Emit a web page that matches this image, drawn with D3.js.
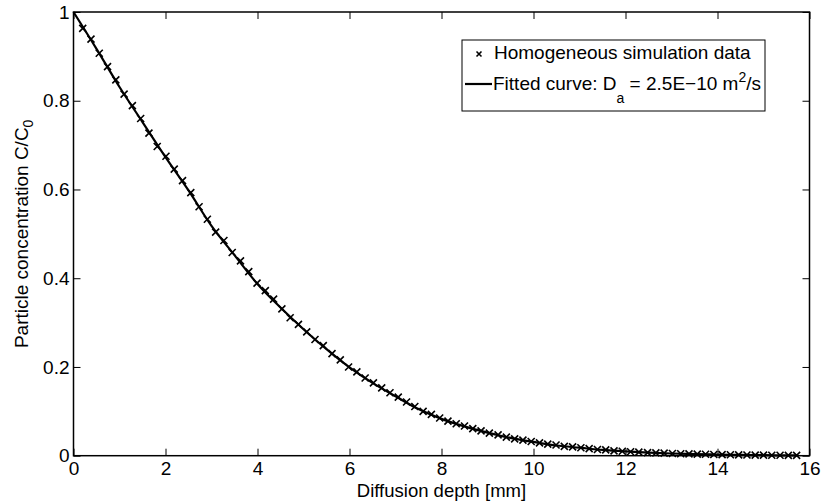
<!DOCTYPE html>
<html>
<head>
<meta charset="utf-8">
<script src="https://cdn.jsdelivr.net/npm/d3@7"></script>
<style>
  body { margin: 0; background: #fff; }
  svg { display: block; font-family: "Liberation Sans", Arial, sans-serif; }
  .tick text { font-size: 19px; fill: #000; }
</style>
</head>
<body>
<svg id="chart" width="823" height="504"></svg>
<script>
// simulation data (markers)
const depthData = [0.20, 0.38, 0.56, 0.74, 0.92, 1.10, 1.28, 1.46, 1.64, 1.82,
    2.01, 2.19, 2.37, 2.55, 2.73, 2.91, 3.09, 3.27, 3.45, 3.63,
    3.81, 3.99, 4.17, 4.35, 4.53, 4.71, 4.89, 5.07, 5.25, 5.43,
    5.62, 5.80, 5.98, 6.16, 6.34, 6.52, 6.70, 6.88, 7.06, 7.24,
    7.42, 7.60, 7.78, 7.96, 8.14, 8.32, 8.50, 8.68, 8.86, 9.04,
    9.23, 9.41, 9.59, 9.77, 9.95, 10.13, 10.31, 10.49, 10.67, 10.85,
    11.03, 11.21, 11.39, 11.57, 11.75, 11.93, 12.11, 12.29, 12.48, 12.66,
    12.84, 13.02, 13.20, 13.38, 13.56, 13.74, 13.92, 14.10, 14.28, 14.46,
    14.64, 14.82, 15.00, 15.18, 15.36, 15.54, 15.72];
const concData = [0.963, 0.939, 0.907, 0.877, 0.847, 0.815, 0.789, 0.760, 0.727, 0.697,
    0.675, 0.646, 0.620, 0.593, 0.561, 0.533, 0.504, 0.485, 0.458, 0.439,
    0.415, 0.389, 0.372, 0.353, 0.331, 0.311, 0.296, 0.279, 0.262, 0.248,
    0.230, 0.216, 0.200, 0.189, 0.175, 0.164, 0.153, 0.142, 0.132, 0.121,
    0.111, 0.100, 0.093, 0.085, 0.078, 0.072, 0.067, 0.061, 0.056, 0.051,
    0.047, 0.042, 0.038, 0.035, 0.032, 0.029, 0.026, 0.024, 0.021, 0.020,
    0.018, 0.016, 0.014, 0.013, 0.011, 0.010, 0.009, 0.008, 0.007, 0.0065,
    0.0057, 0.0049, 0.0045, 0.0040, 0.0036, 0.0032, 0.0028, 0.0024, 0.0022, 0.0019,
    0.0016, 0.0014, 0.0012, 0.0011, 0.0009, 0.0008, 0.0007];

// fitted curve
const fitDepth = [0, 0.5, 1, 1.5, 2, 2.5, 3, 3.5, 4, 4.5, 5, 5.5, 6, 6.5, 7, 7.5, 8,
    8.5, 9, 9.5, 10, 10.5, 11, 11.5, 12, 12.5, 13, 13.5, 14, 14.5, 15, 15.5, 15.72];
const fitConc = [1.000, 0.917, 0.831, 0.752, 0.673, 0.598, 0.518, 0.452, 0.387, 0.334,
    0.285, 0.240, 0.199, 0.164, 0.134, 0.105, 0.083, 0.066, 0.052, 0.040,
    0.031, 0.023, 0.018, 0.013, 0.0096, 0.007, 0.005, 0.0037, 0.0026, 0.0018,
    0.0012, 0.0008, 0.0007];

const xTicks = [0, 2, 4, 6, 8, 10, 12, 14, 16];
const xTickLabels = ["0", "2", "4", "6", "8", "10", "12", "14", "16"];
const yTicks = [0, 0.2, 0.4, 0.6, 0.8, 1];
const yTickLabels = ["0", "0.2", "0.4", "0.6", "0.8", "1"];

(function() {
    const svg = d3.select("#chart");
    const mLeft = 73.5, mRight = 809.5, mTop = 12, mBottom = 455.7;

    const x = d3.scaleLinear().domain([0, 16]).range([mLeft, mRight]);
    const y = d3.scaleLinear().domain([0, 1]).range([mBottom, mTop]);

    // axes (ticks inward on all four sides)
    svg.append("g")
        .attr("transform", `translate(0,${mBottom})`)
        .call(d3.axisBottom(x).tickValues(xTicks)
            .tickFormat((d, i) => xTickLabels[i])
            .tickSizeInner(-7).tickSizeOuter(0).tickPadding(6));
    svg.append("g")
        .attr("transform", `translate(0,${mTop})`)
        .call(d3.axisTop(x).tickValues(xTicks).tickFormat("")
            .tickSizeInner(-7).tickSizeOuter(0));
    svg.append("g")
        .attr("transform", `translate(${mLeft},0)`)
        .call(d3.axisLeft(y).tickValues(yTicks)
            .tickFormat((d, i) => yTickLabels[i])
            .tickSizeInner(-7).tickSizeOuter(0).tickPadding(4));
    svg.append("g")
        .attr("transform", `translate(${mRight},0)`)
        .call(d3.axisRight(y).tickValues(yTicks).tickFormat("")
            .tickSizeInner(-7).tickSizeOuter(0));

    svg.selectAll(".domain").remove();
    svg.selectAll(".tick line").attr("stroke", "#000").attr("stroke-width", 1);

    // fitted curve
    const line = d3.line()
        .x((d, i) => x(fitDepth[i]))
        .y(d => y(d))
        .curve(d3.curveMonotoneX);

    svg.append("path")
        .datum(fitConc)
        .attr("d", line)
        .attr("fill", "none")
        .attr("stroke", "#000")
        .attr("stroke-width", 2.2);

    // markers
    const cross = "M-3.5,-3.5L3.5,3.5M-3.5,3.5L3.5,-3.5";
    svg.append("g").selectAll("path")
        .data(concData)
        .join("path")
        .attr("transform", (d, i) => `translate(${x(depthData[i])},${y(d)})`)
        .attr("d", cross)
        .attr("stroke", "#000")
        .attr("stroke-width", 1.6)
        .attr("fill", "none");

    // frame
    svg.append("rect")
        .attr("x", mLeft).attr("y", mTop)
        .attr("width", mRight - mLeft).attr("height", mBottom - mTop)
        .attr("fill", "none")
        .attr("stroke", "#000")
        .attr("stroke-width", 1.5);

    // axis labels
    svg.append("text")
        .attr("x", (mLeft + mRight) / 2)
        .attr("y", 497)
        .attr("text-anchor", "middle")
        .attr("font-size", 18.5)
        .text("Diffusion depth [mm]");

    const yl = svg.append("text")
        .attr("transform", `translate(28,${(mTop + mBottom) / 2}) rotate(-90)`)
        .attr("text-anchor", "middle")
        .attr("font-size", 19);
    yl.append("tspan").text("Particle concentration C/C");
    yl.append("tspan").attr("dy", 5).attr("font-size", 14).text("0");

    // legend
    const lg = svg.append("g");
    lg.append("rect")
        .attr("x", 462).attr("y", 40)
        .attr("width", 303).attr("height", 71)
        .attr("fill", "#fff")
        .attr("stroke", "#000")
        .attr("stroke-width", 1);

    lg.append("path")
        .attr("transform", "translate(479,54)")
        .attr("d", "M-2.5,-2.5L2.5,2.5M-2.5,2.5L2.5,-2.5")
        .attr("stroke", "#000")
        .attr("stroke-width", 1.6);
    lg.append("text")
        .attr("x", 494).attr("y", 59)
        .attr("font-size", 19)
        .text("Homogeneous simulation data");

    lg.append("line")
        .attr("x1", 465).attr("x2", 492)
        .attr("y1", 84).attr("y2", 84)
        .attr("stroke", "#000")
        .attr("stroke-width", 2.2);
    const t2 = lg.append("text")
        .attr("x", 493).attr("y", 90)
        .attr("font-size", 19);
    t2.append("tspan").text("Fitted curve: D");
    t2.append("tspan").attr("dy", 13).attr("font-size", 14).text("a");
    t2.append("tspan").attr("dy", -13).text(" = 2.5E\u221210 m");
    t2.append("tspan").attr("dy", -8).attr("font-size", 14).text("2");
    t2.append("tspan").attr("dy", 8).text("/s");
})();
</script>
</body>
</html>
